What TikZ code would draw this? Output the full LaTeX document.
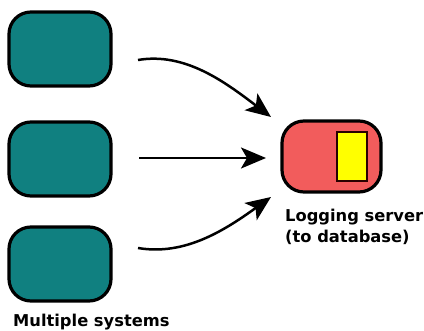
\documentclass[tikz,border=0pt]{standalone}
\usepackage{fontspec}
\setmainfont{DejaVu Sans}
\usetikzlibrary{arrows.meta}
\definecolor{tealbox}{RGB}{16,128,128}
\definecolor{redbox}{RGB}{242,92,92}
\definecolor{yel}{RGB}{255,255,0}
\tikzset{
  sysbox/.style={draw=black, line width=3.2pt, fill=tealbox, rounded corners=22pt},
  srvbox/.style={draw=black, line width=3.2pt, fill=redbox, rounded corners=22pt},
  dbbox/.style={draw=black!60!red!40!black, line width=2.2pt, fill=yel},
  conn/.style={line width=2.5pt, -{Stealth[length=25pt,width=21pt,inset=6pt]}},
  lbl/.style={font=\bfseries\fontsize{16.3}{21}\selectfont, inner sep=0pt, anchor=base west}
}
\begin{document}
\begin{tikzpicture}[x=1pt,y=-1pt]
\useasboundingbox (0,0) rectangle (424,331);
\fill[white] (0,0) rectangle (424,331);
\draw[sysbox] (9,12) rectangle (111,86);
\draw[sysbox] (9,122) rectangle (111,196);
\draw[sysbox] (9,227) rectangle (111,301);
\draw[srvbox] (282,121) rectangle (381,192);
\draw[dbbox] (337,132) rectangle (367,181);
\coordinate (s1) at (138,60);
\coordinate (s2) at (139,158);
\coordinate (s3) at (138,248);
\coordinate (t1) at (271,117);
\coordinate (t2) at (266,158);
\coordinate (t3) at (271,197);
\draw[conn] (s1) .. controls (185,52) and (225,82) .. (t1);
\draw[conn] (s2) -- (t2);
\draw[conn] (s3) .. controls (185,256) and (225,230) .. (t3);
\node[lbl] (srvlbl) at (285,222) {Logging server};
\node[lbl] (srvlbl2) at (285,243) {(to database)};
\node[lbl] (syslbl) at (13,327) {Multiple systems};
\end{tikzpicture}
\end{document}
